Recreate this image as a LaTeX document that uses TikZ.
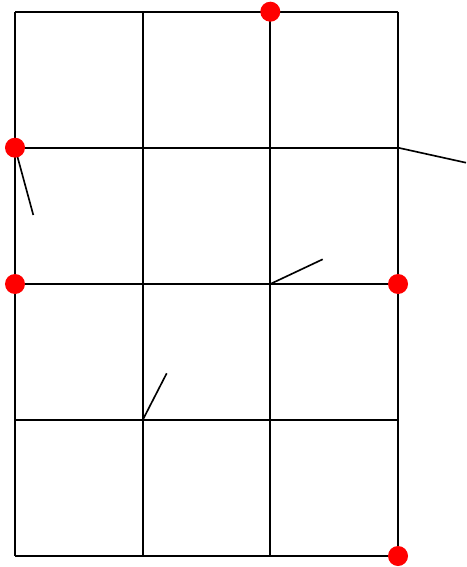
\documentclass[tikz,border=0pt]{standalone}
\begin{document}
\begin{tikzpicture}[x=0.03cm,y=-0.03cm,line width=1.4pt,
  dot/.style={circle,fill=red,inner sep=0pt,minimum size=0.6cm}]
\useasboundingbox (0,0) rectangle (466,567);
\foreach \i/\x in {0/15,1/142.7,2/270.3,3/398}
 \foreach \j/\y in {0/11.7,1/147.7,2/284,3/420,4/556}
  \coordinate (g\i\j) at (\x,\y);
\foreach \i in {0,...,3} \draw (g\i0) -- (g\i4);
\foreach \j in {0,...,4} \draw (g0\j) -- (g3\j);
\coordinate (t1) at (33.3,215);
\coordinate (t2) at (466,162.7);
\coordinate (t3) at (322.7,259.3);
\coordinate (t4) at (166.7,373.3);
\draw (g01) -- (t1);
\draw (g31) -- (t2);
\draw (g22) -- (t3);
\draw (g13) -- (t4);
\node[dot] (p1) at (g20) {};
\node[dot] (p2) at (g01) {};
\node[dot] (p3) at (g02) {};
\node[dot] (p4) at (g32) {};
\node[dot] (p5) at (g34) {};
\end{tikzpicture}
\end{document}
